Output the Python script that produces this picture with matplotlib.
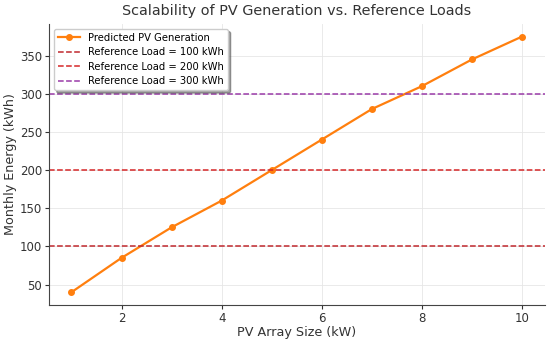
import matplotlib
matplotlib.use("Agg")
import matplotlib.pyplot as plt
import numpy as np

array_size = np.arange(1, 11)  # kW
monthly_energy = [40, 85, 125, 160, 200, 240, 280, 310, 345, 375]  # kWh
ref_loads = [100, 200, 300]
ref_colors = ["#c0282d", "#d62728", "#9a3aa8"]

fig, ax = plt.subplots(figsize=(5.5, 3.4), dpi=100)

ax.plot(array_size, monthly_energy, color="#ff7f0e", marker="o", markersize=4,
        linewidth=1.6, label="Predicted PV Generation")
for load, c in zip(ref_loads, ref_colors):
    ax.axhline(load, color=c, linestyle="--", linewidth=1.1,
               label=f"Reference Load = {load} kWh")

ax.set_title("Scalability of PV Generation vs. Reference Loads", fontsize=10.4, color="#333333")
ax.set_xlabel("PV Array Size (kW)", fontsize=9.2, color="#333333", labelpad=1)
ax.set_ylabel("Monthly Energy (kWh)", fontsize=9.2, color="#333333", labelpad=2)
ax.tick_params(labelsize=8.5, colors="#333333", length=3, pad=2)
ax.grid(True, color="#e6e6e6", linewidth=0.6)
for s in ["top", "right"]:
    ax.spines[s].set_visible(False)
for s in ["left", "bottom"]:
    ax.spines[s].set_color("#444444")

ax.legend(loc="upper left", fontsize=7.2, shadow=True, fancybox=True, framealpha=1,
          borderpad=0.4, labelspacing=0.45, handlelength=2.2)

fig.subplots_adjust(left=0.089, right=0.99, top=0.93, bottom=0.103)
fig.savefig("out.png")
